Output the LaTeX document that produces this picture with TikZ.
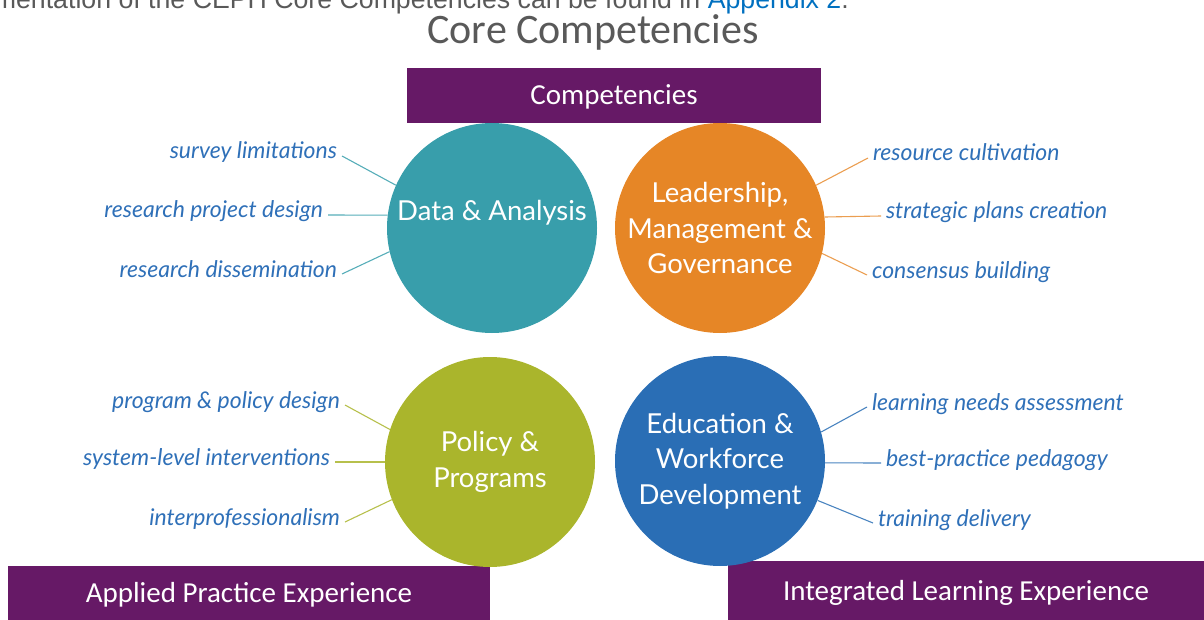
\documentclass[tikz,border=0pt]{standalone}
\usepackage{fontspec}
\setmainfont{Carlito}
\newfontfamily\gillfont{Lato}
\newfontfamily\arialfont{Liberation Sans}
\usetikzlibrary{positioning}
\definecolor{dataTeal}{HTML}{389EAB}
\definecolor{leadOrange}{HTML}{E68626}
\definecolor{policyGreen}{HTML}{AAB52C}
\definecolor{eduBlue}{HTML}{2A6EB5}
\definecolor{barPurple}{HTML}{661966}
\definecolor{topicBlue}{HTML}{2F70B8}
\definecolor{titleGray}{HTML}{595959}
\definecolor{linkBlue}{HTML}{0070C0}

\begin{document}
\begin{tikzpicture}[x=1pt,y=-1pt,
  bubble/.style={circle,minimum size=210pt,inner sep=0pt,
    align=center,text=white,font=\gillfont\fontsize{27.5}{35.5}\selectfont},
  topic/.style={inner sep=0pt,outer sep=5pt,text height=13pt,text depth=7pt,
    text=topicBlue,font=\gillfont\itshape\fontsize{23}{27}\selectfont},
  bar/.style={fill=barPurple,inner sep=0pt,text height=19pt,text depth=0pt,
    text=white,font=\fontsize{29}{35}\selectfont},
  twig/.style={line width=1.1pt}]
\useasboundingbox (0,0) rectangle (1204,620);

% heading
\node[anchor=base east,inner sep=0pt,font=\arialfont\fontsize{26.7}{30}\selectfont,text=titleGray]
  (intro) at (849,9) {mentation of the CEPH Core Competencies can be found in \textcolor{linkBlue}{Appendix 2}.};
\node[anchor=base,inner sep=0pt,font=\fontsize{42}{48}\selectfont,text=titleGray]
  (title) at (593,44) {Core Competencies};

% purple bars
\node[bar,minimum width=414pt,minimum height=55pt] (comp) at (614,95.5) {Competencies};
\node[bar,minimum width=482pt,minimum height=54pt] (applied) at (249,593) {Applied Practice Experience};
\node[bar,minimum width=476pt,minimum height=59pt] (integr) at (966,590.5) {Integrated Learning Experience};

% the four areas
\node[bubble,fill=dataTeal] (data) at (492,228) {Data \& Analysis\\\phantom{A}};
\node[bubble,fill=leadOrange] (lead) at (720,228) {Leadership,\\Management \&\\Governance};
\node[bubble,fill=policyGreen] (policy) at (490,462) {Policy \&\\Programs};
\node[bubble,fill=eduBlue] (edu) at (720,461) {Education \&\\Workforce\\Development};

% topics, left side
\node[topic,anchor=east] (survey) at (342,156) {survey limitations};
\node[topic,anchor=east] (design) at (328,215) {research project design};
\node[topic,anchor=east] (dissem) at (342,274) {research dissemination};
\node[topic,anchor=east] (progpol) at (345,405) {program \& policy design};
\node[topic,anchor=east] (system) at (335,462) {system-level interventions};
\node[topic,anchor=east] (interpro) at (345,522) {interprofessionalism};

% topics, right side
\node[topic,anchor=west] (resource) at (868,158) {resource cultivation};
\node[topic,anchor=west] (strategic) at (881,216) {strategic plans creation};
\node[topic,anchor=west] (consensus) at (867,275) {consensus building};
\node[topic,anchor=west] (needs) at (867,407) {learning needs assessment};
\node[topic,anchor=west] (pedagogy) at (881,463) {best-practice pedagogy};
\node[topic,anchor=west] (training) at (873,523) {training delivery};

\foreach \t/\a in {survey/156,design/173,dissem/193}
  \draw[twig,dataTeal!85] (\t.east) -- (data.\a);
\foreach \t/\a in {resource/24,strategic/6,consensus/346}
  \draw[twig,leadOrange!80] (\t.west) -- (lead.\a);
\foreach \t/\a in {progpol/162,system/180,interpro/201}
  \draw[twig,policyGreen!85] (\t.east) -- (policy.\a);
\foreach \t/\a in {needs/16,pedagogy/359,training/338}
  \draw[twig,eduBlue!85] (\t.west) -- (edu.\a);

\end{tikzpicture}
\end{document}
